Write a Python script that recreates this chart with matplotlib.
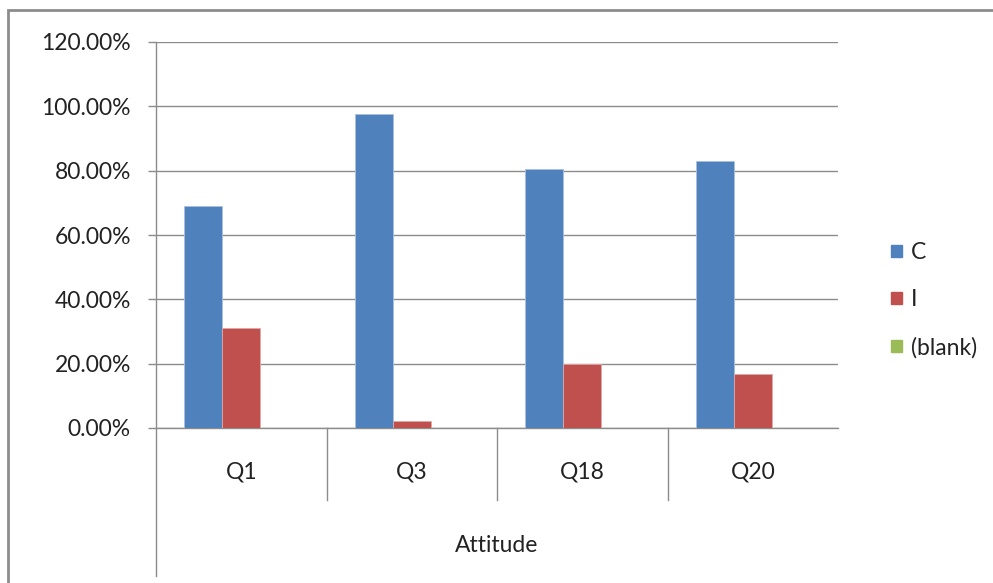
import matplotlib.pyplot as plt
import matplotlib.transforms as mtransforms
from matplotlib.patches import Rectangle, Patch
from matplotlib.ticker import FuncFormatter
import numpy as np

# Share of responses per question
questions = ["Q1", "Q3", "Q18", "Q20"]
C_vals = [0.690, 0.976, 0.805, 0.829]
I_vals = [0.310, 0.022, 0.198, 0.169]
blank_vals = [0.0, 0.0, 0.0, 0.0]
group_name = "Attitude"

plt.rcParams['font.family'] = ['Lato', 'DejaVu Sans']
W, H = 993, 583
FS = 16.5
TXT = '#222222'
fig = plt.figure(figsize=(W / 100, H / 100), dpi=100)

# outer chart frame (runs off the right and bottom edges)
fig.patches.append(Rectangle((8 / W, -0.1), 1.2, 1.1 - 10 / H,
                             transform=fig.transFigure, fill=False,
                             edgecolor='#8c8c8c', linewidth=2))

ax = fig.add_axes([156 / W, (H - 428) / H, (838 - 156) / W, (428 - 42) / H])

x = np.arange(len(questions))
w = 0.223
ax.bar(x - w, C_vals, w, color='#4F81BD', edgecolor='#a9c0e0', linewidth=0.6, label='C', zorder=3)
ax.bar(x, I_vals, w, color='#C0504D', edgecolor='#e0a9a8', linewidth=0.6, label='I', zorder=3)
ax.bar(x + w, blank_vals, w, color='#9BBB59', label='(blank)', zorder=3)

ax.set_xlim(-0.5, len(questions) - 0.5)
ax.set_ylim(0, 1.2)
ax.set_yticks(np.arange(0, 1.21, 0.2))
ax.yaxis.set_major_formatter(FuncFormatter(lambda v, _: f"{v * 100:.2f}%"))
ax.grid(axis='y', color='#8c8c8c', linewidth=1, zorder=0)
ax.set_axisbelow(True)
ax.set_xticks([])
ax.tick_params(axis='y', length=6, width=1, color='#8c8c8c', labelsize=FS,
               labelcolor=TXT, pad=12)
for s in ['top', 'right']:
    ax.spines[s].set_visible(False)
for s in ['left', 'bottom']:
    ax.spines[s].set_color('#8c8c8c')
    ax.spines[s].set_linewidth(1)

# two-level category axis below the plot
trans = mtransforms.blended_transform_factory(ax.transData, ax.transAxes)
ph = 428 - 42
for i in range(1, len(questions)):
    ax.plot([i - 0.5, i - 0.5], [0, -(500 - 428) / ph], transform=trans,
            color='#8c8c8c', linewidth=1, clip_on=False)
ax.plot([-0.5, -0.5], [0, -(576 - 428) / ph], transform=trans,
        color='#8c8c8c', linewidth=1, clip_on=False)
for i, q in enumerate(questions):
    ax.text(i, -(472 - 428) / ph, q, transform=trans, ha='center', va='center',
            fontsize=FS, color=TXT)
ax.text(0.5, -(545 - 428) / ph, group_name, transform=ax.transAxes,
        ha='center', va='center', fontsize=FS, color=TXT)

handles = [Patch(color='#4F81BD', label='C'),
           Patch(color='#C0504D', label='I'),
           Patch(color='#9BBB59', label='(blank)')]
fig.legend(handles=handles, loc='center left', bbox_to_anchor=(880 / W, (H - 300) / H),
           frameon=False, fontsize=FS, handlelength=0.45, handleheight=0.45,
           handletextpad=0.4, labelspacing=1.15, labelcolor=TXT, borderpad=0)

fig.savefig('out.png', dpi=100)
